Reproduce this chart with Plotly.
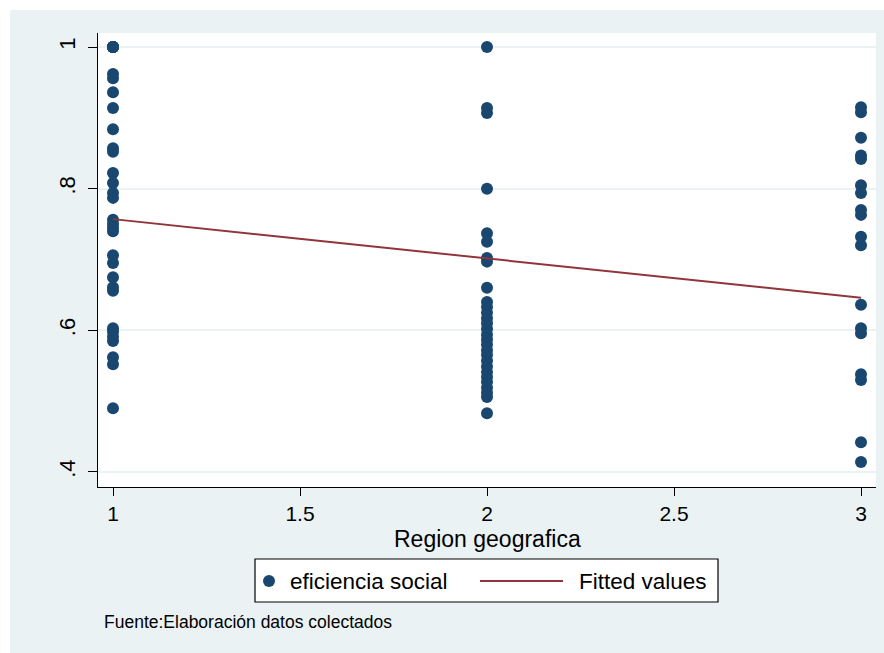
import plotly.graph_objects as go

# Eficiencia social por región geográfica
region_1 = [1.0, 1.0, 1.0, 1.0, 1.0, 1.0, 0.962, 0.956, 0.936, 0.914, 0.884,
            0.857, 0.852, 0.822, 0.808, 0.794, 0.787, 0.756, 0.750, 0.745,
            0.740, 0.706, 0.695, 0.675, 0.661, 0.656, 0.603, 0.598, 0.591,
            0.585, 0.562, 0.552, 0.490]
region_2 = [1.0, 0.914, 0.907, 0.800, 0.737, 0.725, 0.702, 0.697, 0.660,
            0.640, 0.633, 0.625, 0.617, 0.610, 0.602, 0.594, 0.587, 0.580,
            0.572, 0.565, 0.557, 0.549, 0.541, 0.534, 0.527, 0.519, 0.512,
            0.506, 0.483]
region_3 = [0.915, 0.908, 0.872, 0.847, 0.842, 0.805, 0.794, 0.770, 0.763,
            0.732, 0.720, 0.636, 0.603, 0.596, 0.538, 0.530, 0.442, 0.414]

# Recta ajustada (valores en los extremos)
fit_x = [1, 3]
fit_y = [0.757, 0.646]

x_ticks = [1, 1.5, 2, 2.5, 3]
x_labels = ["1", "1.5", "2", "2.5", "3"]
y_ticks = [0.4, 0.6, 0.8, 1.0]
y_labels = [".4", ".6", ".8", "1"]

xs = [1] * len(region_1) + [2] * len(region_2) + [3] * len(region_3)
ys = region_1 + region_2 + region_3

FONT = "Liberation Sans, Arial, sans-serif"
BG = "#EAF2F3"
NAVY = "#1A476F"
MAROON = "#90353B"

# plot area in pixels
L, R, T, B = 98, 876, 33, 487
W, H = R - L, B - T


def px(x):
    return (x - L) / W


def py(y):
    return (B - y) / H


fig = go.Figure()
fig.add_trace(go.Scatter(
    x=xs, y=ys, mode="markers", name="eficiencia social",
    marker=dict(color=NAVY, size=12, line=dict(width=0)),
))
fig.add_trace(go.Scatter(
    x=fit_x, y=fit_y, mode="lines", name="Fitted values",
    line=dict(color=MAROON, width=2),
))

P = dict(xref="paper", yref="paper")
shapes = [
    # white strips along the top and left edges of the page
    dict(type="rect", **P, x0=px(0), x1=px(884), y0=py(10), y1=py(0),
         fillcolor="white", line=dict(width=0), layer="below"),
    dict(type="rect", **P, x0=px(0), x1=px(10), y0=py(653), y1=py(0),
         fillcolor="white", line=dict(width=0), layer="below"),
    # legend box and keys
    dict(type="rect", **P, x0=px(255), x1=px(718), y0=py(602), y1=py(559),
         fillcolor="white", line=dict(color="black", width=1.2)),
    dict(type="circle", **P, x0=px(263), x1=px(275), y0=py(587), y1=py(575),
         fillcolor=NAVY, line=dict(width=0)),
    dict(type="line", **P, x0=px(480), x1=px(563), y0=py(581), y1=py(581),
         line=dict(color=MAROON, width=2)),
]

annotations = [
    # x-axis title
    dict(text="Region geografica", **P, x=0.5, y=py(539),
         xanchor="center", yanchor="middle", showarrow=False,
         font=dict(size=23, family=FONT)),
    dict(text="eficiencia social", **P, x=px(288), y=py(581),
         xanchor="left", yanchor="middle", showarrow=False,
         font=dict(size=22.5, family=FONT)),
    dict(text="Fitted values", **P, x=px(577), y=py(581),
         xanchor="left", yanchor="middle", showarrow=False,
         font=dict(size=22.5, family=FONT)),
    dict(text="Fuente:Elaboración datos colectados", **P, x=px(102),
         y=py(622), xanchor="left", yanchor="middle", showarrow=False,
         font=dict(size=17.5, family=FONT)),
]

fig.update_layout(
    width=884, height=653,
    margin=dict(l=L, r=884 - R, t=T, b=653 - B),
    paper_bgcolor=BG,
    plot_bgcolor="white",
    font=dict(family=FONT, color="black", size=22),
    showlegend=False,
    xaxis=dict(
        range=[0.9599, 3.0401], tickvals=x_ticks, ticktext=x_labels,
        showgrid=False, zeroline=False, showline=True, linecolor="black",
        linewidth=1.2, ticks="outside", ticklen=8, tickcolor="black",
        tickfont=dict(size=21),
    ),
    yaxis=dict(
        range=[0.3788, 1.0198], tickvals=y_ticks, ticktext=y_labels,
        showgrid=True, gridcolor=BG, gridwidth=2, zeroline=False,
        showline=True, linecolor="black", linewidth=1.2,
        ticks="outside", ticklen=9, tickcolor="black",
        tickangle=-90, tickfont=dict(size=22), ticklabelstandoff=4,
    ),
    shapes=shapes,
    annotations=annotations,
)

fig.write_html("out.html")
